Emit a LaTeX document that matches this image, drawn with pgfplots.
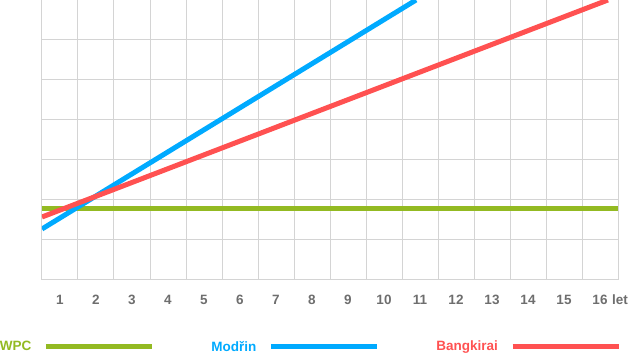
\documentclass[border=0pt]{standalone}
\usepackage{pgfplots}
\pgfplotsset{compat=1.18}
\usepackage{fontspec}
\setmainfont{Liberation Sans}
\definecolor{wpc}{HTML}{93BA22}
\definecolor{modrin}{HTML}{00AAFF}
\definecolor{bang}{HTML}{FF5151}
\definecolor{gridc}{HTML}{D4D4D4}
\definecolor{labc}{HTML}{6E6E6E}
\begin{document}
\fontsize{13.5bp}{16bp}\selectfont\bfseries
\begin{tikzpicture}
\begin{axis}[
  scale only axis,
  width=576bp, height=280bp,
  xmin=0, xmax=16, ymin=0, ymax=7,
  axis line style={gridc, line width=1bp},
  xtick={0.5,1.5,...,15.5},
  xticklabels={1,2,3,4,5,6,7,8,9,10,11,12,13,14,15,16},
  minor xtick={1,2,...,15},
  xminorgrids=true,
  ytick={1,2,...,6},
  yticklabels={},
  ymajorgrids=true,
  grid style={gridc, line width=1bp},
  minor grid style={gridc, line width=1bp},
  major tick length=0pt, minor tick length=0pt,
  tick style={draw=none},
  xticklabel style={anchor=base, inner sep=0pt, yshift=-25bp, text=labc, font=\fontsize{13.5bp}{16bp}\selectfont\bfseries},
  clip=true,
  legend columns=3,
  legend plot pos=right,
  legend style={draw=none, fill=none, inner sep=0pt, outer sep=0pt,
    at={(axis description cs:0,0)}, anchor=west, xshift=-42bp, yshift=-67bp,
    font=\fontsize{13.5bp}{16bp}\selectfont\bfseries,
    nodes={inner sep=0pt},
    /tikz/every odd column/.append style={column sep=12bp},
    /tikz/every even column/.append style={column sep=57bp}},
  legend image code/.code={\draw[#1, line width=5bp] (0bp,0bp) -- (106bp,0bp);},
]
\addplot[wpc, line width=5bp] coordinates {(0,1.775) (16,1.775)};
\addlegendentry{\textcolor{wpc}{WPC}}
\addplot[modrin, line width=5bp] coordinates {(0,1.275) (10.39,7)};
\addlegendentry{\textcolor{modrin}{Modřin}}
\addplot[bang, line width=5bp] coordinates {(0,1.575) (15.72,7)};
\addlegendentry{\textcolor{bang}{Bangkirai}}
\coordinate (O) at (rel axis cs:0,0);
\coordinate (T) at (rel axis cs:1,1);
\end{axis}
\node[anchor=base west, inner sep=0pt, text=labc] at ([xshift=-6bp, yshift=-25bp]O -| T) {let};
\pgfresetboundingbox
\path ([xshift=-42bp,yshift=-76bp]O) rectangle ([xshift=13bp]T);
\end{tikzpicture}
\end{document}
